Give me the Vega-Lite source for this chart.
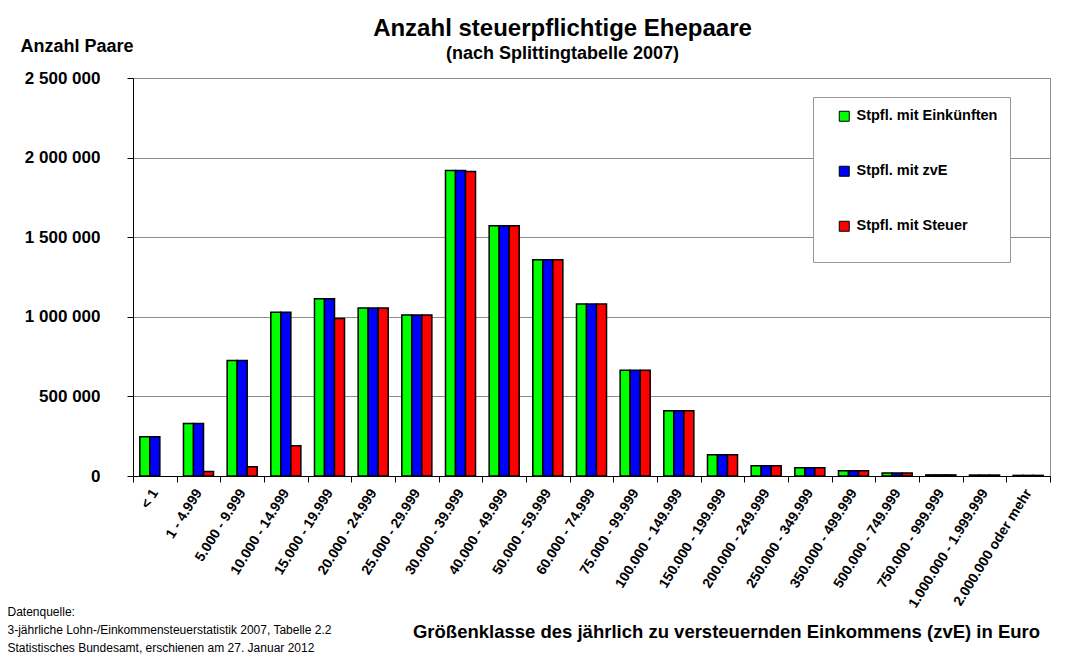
{
  "$schema": "https://vega.github.io/schema/vega-lite/v6.json",
  "width": 917,
  "height": 398,
  "autosize": {"type": "none"},
  "padding": {"left": 133, "top": 78, "right": 15, "bottom": 186},
  "background": "white",
  "title": {
    "text": "Anzahl steuerpflichtige Ehepaare",
    "subtitle": "(nach Splittingtabelle 2007)",
    "anchor": "middle",
    "frame": "group",
    "dx": -29,
    "offset": -26,
    "font": "Liberation Sans",
    "fontSize": 24,
    "fontWeight": "bold",
    "color": "black",
    "subtitleFont": "Liberation Sans",
    "subtitleFontSize": 18,
    "subtitleFontWeight": "bold",
    "subtitleColor": "black",
    "subtitlePadding": 4
  },
  "data": {
    "values": [
      {"klasse": "< 1", "reihe": "Stpfl. mit Einkünften", "anzahl": 247000},
      {"klasse": "< 1", "reihe": "Stpfl. mit zvE", "anzahl": 247000},
      {"klasse": "1 - 4.999", "reihe": "Stpfl. mit Einkünften", "anzahl": 329000},
      {"klasse": "1 - 4.999", "reihe": "Stpfl. mit zvE", "anzahl": 329000},
      {"klasse": "1 - 4.999", "reihe": "Stpfl. mit Steuer", "anzahl": 28000},
      {"klasse": "5.000 - 9.999", "reihe": "Stpfl. mit Einkünften", "anzahl": 725000},
      {"klasse": "5.000 - 9.999", "reihe": "Stpfl. mit zvE", "anzahl": 725000},
      {"klasse": "5.000 - 9.999", "reihe": "Stpfl. mit Steuer", "anzahl": 58000},
      {"klasse": "10.000 - 14.999", "reihe": "Stpfl. mit Einkünften", "anzahl": 1029000},
      {"klasse": "10.000 - 14.999", "reihe": "Stpfl. mit zvE", "anzahl": 1029000},
      {"klasse": "10.000 - 14.999", "reihe": "Stpfl. mit Steuer", "anzahl": 190000},
      {"klasse": "15.000 - 19.999", "reihe": "Stpfl. mit Einkünften", "anzahl": 1113000},
      {"klasse": "15.000 - 19.999", "reihe": "Stpfl. mit zvE", "anzahl": 1113000},
      {"klasse": "15.000 - 19.999", "reihe": "Stpfl. mit Steuer", "anzahl": 990000},
      {"klasse": "20.000 - 24.999", "reihe": "Stpfl. mit Einkünften", "anzahl": 1056000},
      {"klasse": "20.000 - 24.999", "reihe": "Stpfl. mit zvE", "anzahl": 1056000},
      {"klasse": "20.000 - 24.999", "reihe": "Stpfl. mit Steuer", "anzahl": 1056000},
      {"klasse": "25.000 - 29.999", "reihe": "Stpfl. mit Einkünften", "anzahl": 1012000},
      {"klasse": "25.000 - 29.999", "reihe": "Stpfl. mit zvE", "anzahl": 1012000},
      {"klasse": "25.000 - 29.999", "reihe": "Stpfl. mit Steuer", "anzahl": 1012000},
      {"klasse": "30.000 - 39.999", "reihe": "Stpfl. mit Einkünften", "anzahl": 1919000},
      {"klasse": "30.000 - 39.999", "reihe": "Stpfl. mit zvE", "anzahl": 1919000},
      {"klasse": "30.000 - 39.999", "reihe": "Stpfl. mit Steuer", "anzahl": 1912000},
      {"klasse": "40.000 - 49.999", "reihe": "Stpfl. mit Einkünften", "anzahl": 1572000},
      {"klasse": "40.000 - 49.999", "reihe": "Stpfl. mit zvE", "anzahl": 1572000},
      {"klasse": "40.000 - 49.999", "reihe": "Stpfl. mit Steuer", "anzahl": 1572000},
      {"klasse": "50.000 - 59.999", "reihe": "Stpfl. mit Einkünften", "anzahl": 1358000},
      {"klasse": "50.000 - 59.999", "reihe": "Stpfl. mit zvE", "anzahl": 1358000},
      {"klasse": "50.000 - 59.999", "reihe": "Stpfl. mit Steuer", "anzahl": 1358000},
      {"klasse": "60.000 - 74.999", "reihe": "Stpfl. mit Einkünften", "anzahl": 1081000},
      {"klasse": "60.000 - 74.999", "reihe": "Stpfl. mit zvE", "anzahl": 1081000},
      {"klasse": "60.000 - 74.999", "reihe": "Stpfl. mit Steuer", "anzahl": 1081000},
      {"klasse": "75.000 - 99.999", "reihe": "Stpfl. mit Einkünften", "anzahl": 664000},
      {"klasse": "75.000 - 99.999", "reihe": "Stpfl. mit zvE", "anzahl": 664000},
      {"klasse": "75.000 - 99.999", "reihe": "Stpfl. mit Steuer", "anzahl": 664000},
      {"klasse": "100.000 - 149.999", "reihe": "Stpfl. mit Einkünften", "anzahl": 410000},
      {"klasse": "100.000 - 149.999", "reihe": "Stpfl. mit zvE", "anzahl": 410000},
      {"klasse": "100.000 - 149.999", "reihe": "Stpfl. mit Steuer", "anzahl": 410000},
      {"klasse": "150.000 - 199.999", "reihe": "Stpfl. mit Einkünften", "anzahl": 133000},
      {"klasse": "150.000 - 199.999", "reihe": "Stpfl. mit zvE", "anzahl": 133000},
      {"klasse": "150.000 - 199.999", "reihe": "Stpfl. mit Steuer", "anzahl": 133000},
      {"klasse": "200.000 - 249.999", "reihe": "Stpfl. mit Einkünften", "anzahl": 64000},
      {"klasse": "200.000 - 249.999", "reihe": "Stpfl. mit zvE", "anzahl": 64000},
      {"klasse": "200.000 - 249.999", "reihe": "Stpfl. mit Steuer", "anzahl": 64000},
      {"klasse": "250.000 - 349.999", "reihe": "Stpfl. mit Einkünften", "anzahl": 52000},
      {"klasse": "250.000 - 349.999", "reihe": "Stpfl. mit zvE", "anzahl": 52000},
      {"klasse": "250.000 - 349.999", "reihe": "Stpfl. mit Steuer", "anzahl": 52000},
      {"klasse": "350.000 - 499.999", "reihe": "Stpfl. mit Einkünften", "anzahl": 33000},
      {"klasse": "350.000 - 499.999", "reihe": "Stpfl. mit zvE", "anzahl": 33000},
      {"klasse": "350.000 - 499.999", "reihe": "Stpfl. mit Steuer", "anzahl": 33000},
      {"klasse": "500.000 - 749.999", "reihe": "Stpfl. mit Einkünften", "anzahl": 19000},
      {"klasse": "500.000 - 749.999", "reihe": "Stpfl. mit zvE", "anzahl": 19000},
      {"klasse": "500.000 - 749.999", "reihe": "Stpfl. mit Steuer", "anzahl": 19000},
      {"klasse": "750.000 - 999.999", "reihe": "Stpfl. mit Einkünften", "anzahl": 7000},
      {"klasse": "750.000 - 999.999", "reihe": "Stpfl. mit zvE", "anzahl": 7000},
      {"klasse": "750.000 - 999.999", "reihe": "Stpfl. mit Steuer", "anzahl": 7000},
      {"klasse": "1.000.000 - 1.999.999", "reihe": "Stpfl. mit Einkünften", "anzahl": 6000},
      {"klasse": "1.000.000 - 1.999.999", "reihe": "Stpfl. mit zvE", "anzahl": 6000},
      {"klasse": "1.000.000 - 1.999.999", "reihe": "Stpfl. mit Steuer", "anzahl": 6000},
      {"klasse": "2.000.000 oder mehr", "reihe": "Stpfl. mit Einkünften", "anzahl": 4000},
      {"klasse": "2.000.000 oder mehr", "reihe": "Stpfl. mit zvE", "anzahl": 4000},
      {"klasse": "2.000.000 oder mehr", "reihe": "Stpfl. mit Steuer", "anzahl": 4000}
    ]
  },
  "layer": [
    {
      "mark": {"type": "bar", "stroke": "black", "strokeWidth": 1.5},
      "encoding": {
        "x": {
          "field": "klasse",
          "type": "nominal",
          "sort": null,
          "scale": {"paddingInner": 0, "paddingOuter": 0},
          "axis": {
            "title": "Größenklasse des jährlich zu versteuernden Einkommens (zvE) in Euro",
            "titleX": 593,
            "titleY": 161,
            "titleAlign": "center",
            "titleBaseline": "alphabetic",
            "titleFontSize": 18.5,
            "tickBand": "extent",
            "labelAngle": -58,
            "labelAlign": "right",
            "labelBaseline": "middle",
            "labelPadding": 8,
            "labelFontSize": 14
          }
        },
        "xOffset": {
          "field": "reihe",
          "type": "nominal",
          "sort": ["Stpfl. mit Einkünften", "Stpfl. mit zvE", "Stpfl. mit Steuer"],
          "scale": {"paddingInner": 0, "paddingOuter": 0.68}
        },
        "y": {
          "field": "anzahl",
          "type": "quantitative",
          "scale": {"domain": [0, 2500000], "nice": false},
          "axis": {
            "title": "Anzahl Paare",
            "titleAngle": 0,
            "titleAlign": "left",
            "titleBaseline": "alphabetic",
            "titleX": -113,
            "titleY": -27,
            "titleFontSize": 18,
            "values": [0, 500000, 1000000, 1500000, 2000000, 2500000],
            "format": ",d",
            "labelFontSize": 17,
            "labelPadding": 27,
            "grid": true
          }
        },
        "color": {
          "field": "reihe",
          "type": "nominal",
          "scale": {
            "domain": ["Stpfl. mit Einkünften", "Stpfl. mit zvE", "Stpfl. mit Steuer"],
            "range": ["#00ff00", "#0000ff", "#ff0000"]
          },
          "legend": {
            "title": "\u00a0",
            "titleOrient": "bottom",
            "titlePadding": 6,
            "titleFontSize": 12,
            "orient": "none",
            "legendX": 680,
            "legendY": 19,
            "padding": 12,
            "symbolOffset": 12,
            "labelOffset": 5,
            "rowPadding": 39,
            "symbolType": "square",
            "symbolSize": 100,
            "symbolStrokeColor": "black",
            "symbolStrokeWidth": 1,
            "symbolOpacity": 1,
            "labelFontSize": 14.5,
            "labelFontWeight": "bold",
            "labelColor": "black",
            "strokeColor": "#999999",
            "fillColor": "white"
          }
        }
      }
    },
    {
      "mark": {"type": "point", "opacity": 0},
      "encoding": {
        "y": {
          "field": "anzahl",
          "type": "quantitative",
          "axis": {
            "orient": "right",
            "title": [
              "Datenquelle:",
              "3-jährliche Lohn-/Einkommensteuerstatistik 2007, Tabelle 2.2",
              "Statistisches Bundesamt, erschienen am 27. Januar 2012"
            ],
            "titleAngle": 0,
            "titleAlign": "left",
            "titleBaseline": "top",
            "titleX": -1043,
            "titleY": 528,
            "titleFont": "Liberation Sans",
            "titleFontSize": 12,
            "titleFontWeight": "normal",
            "labels": false,
            "ticks": false,
            "domain": false,
            "grid": false
          }
        }
      }
    }
  ],
  "resolve": {"axis": {"y": "independent"}},
  "config": {
    "font": "Liberation Sans",
    "locale": {
      "number": {"decimal": ",", "thousands": " ", "grouping": [3], "currency": ["", " €"]}
    },
    "view": {"stroke": "#8c8c8c", "strokeWidth": 1},
    "style": {"guide-title": {"lineHeight": 18}},
    "axis": {
      "domainColor": "black",
      "domainWidth": 1,
      "tickColor": "black",
      "tickSize": 6,
      "tickWidth": 1,
      "gridColor": "#8c8c8c",
      "gridWidth": 1,
      "labelColor": "black",
      "labelFontWeight": "bold",
      "labelFont": "Liberation Sans",
      "titleColor": "black",
      "titleFont": "Liberation Sans",
      "titleFontWeight": "bold"
    },
    "axisX": {"grid": false}
  }
}
